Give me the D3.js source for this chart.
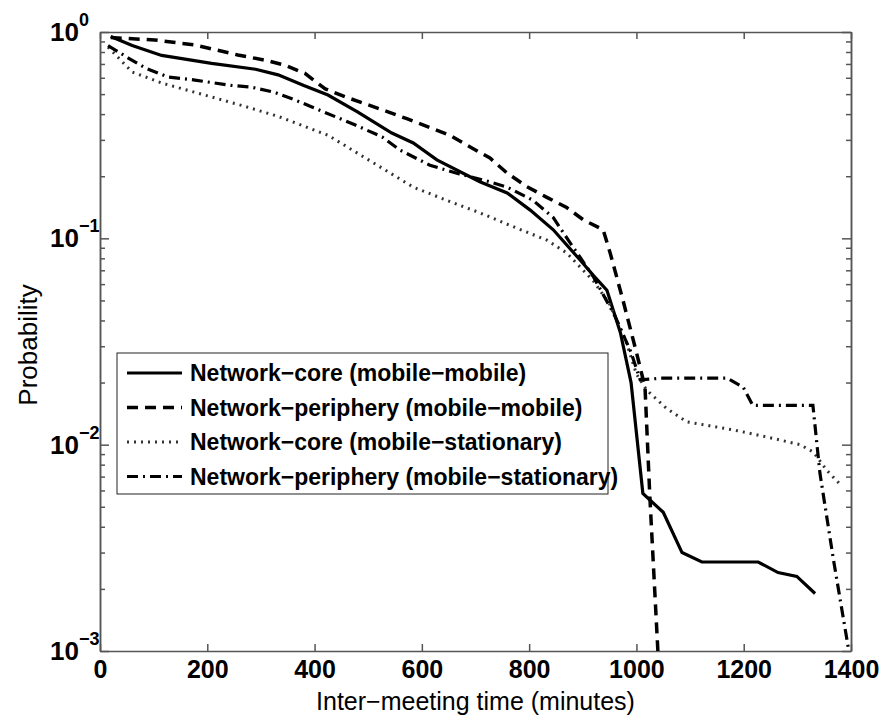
<!DOCTYPE html>
<html>
<head>
<meta charset="utf-8">
<script src="https://cdn.jsdelivr.net/npm/d3@7"></script>
<style>
  body { margin: 0; background: #fff; }
  svg { display: block; font-family: "Liberation Sans", Arial, sans-serif; }
  .axis path, .axis line { stroke: #555; stroke-width: 1.5; }
</style>
</head>
<body>
<div id="app"></div>
<script>
// series: x = inter-meeting time (minutes), p = probability
const coreMobileX = [20, 60, 115, 208, 290, 332, 380, 425, 480, 544, 584, 628, 708, 759, 802, 845, 895, 920, 945, 970, 990, 1012, 1050, 1085, 1122, 1227, 1264, 1299, 1333];
const coreMobileP = [0.95, 0.86, 0.77, 0.705, 0.66, 0.62, 0.55, 0.495, 0.41, 0.324, 0.29, 0.24, 0.188, 0.166, 0.137, 0.11, 0.0785, 0.066, 0.056, 0.035, 0.02, 0.0058, 0.0047, 0.003, 0.0027, 0.0027, 0.0024, 0.0023, 0.0019];

const periMobileX = [20, 102, 177, 257, 308, 345, 382, 420, 462, 537, 572, 652, 690, 727, 759, 796, 833, 870, 901, 938, 951, 975, 1000, 1016, 1025, 1040];
const periMobileP = [0.94, 0.915, 0.865, 0.774, 0.73, 0.69, 0.63, 0.53, 0.48, 0.41, 0.38, 0.316, 0.277, 0.245, 0.207, 0.178, 0.158, 0.141, 0.123, 0.11, 0.085, 0.05, 0.028, 0.019, 0.0056, 0.001];

const coreStatX = [15, 60, 115, 177, 265, 332, 425, 522, 584, 646, 708, 770, 833, 870, 920, 950, 980, 1000, 1019, 1056, 1094, 1180, 1243, 1305, 1330, 1355, 1383];
const coreStatP = [0.845, 0.64, 0.566, 0.51, 0.44, 0.39, 0.316, 0.222, 0.177, 0.153, 0.133, 0.114, 0.098, 0.085, 0.062, 0.048, 0.032, 0.022, 0.0184, 0.015, 0.0129, 0.0118, 0.0109, 0.01, 0.0092, 0.0075, 0.0063];

const periStatX = [15, 52, 84, 127, 177, 239, 283, 326, 364, 395, 475, 526, 559, 615, 670, 720, 759, 807, 845, 873, 920, 960, 990, 1007, 1046, 1169, 1199, 1217, 1329, 1342, 1367, 1396];
const periStatP = [0.86, 0.75, 0.67, 0.605, 0.585, 0.553, 0.54, 0.51, 0.468, 0.433, 0.355, 0.31, 0.268, 0.226, 0.205, 0.19, 0.177, 0.153, 0.126, 0.098, 0.065, 0.042, 0.028, 0.0206, 0.021, 0.021, 0.019, 0.0155, 0.0155, 0.0073, 0.0028, 0.001];

const seriesNames = [
  "Network\u2212core (mobile\u2212mobile)",
  "Network\u2212periphery (mobile\u2212mobile)",
  "Network\u2212core (mobile\u2212stationary)",
  "Network\u2212periphery (mobile\u2212stationary)"
];

const xTicks = [0, 200, 400, 600, 800, 1000, 1200, 1400];
const yMajor = [1, 0.1, 0.01, 0.001];
const yExp = ["0", "\u22121", "\u22122", "\u22123"];

const width = 883, height = 715;
const margin = {left: 100, right: 32, top: 32, bottom: 64};
const innerW = width - margin.left - margin.right;
const innerH = height - margin.top - margin.bottom;

const svg = d3.select("#app")
  .append("svg")
    .attr("width", width)
    .attr("height", height);

const g = svg.append("g")
  .attr("transform", `translate(${margin.left},${margin.top})`);

const x = d3.scaleLinear().domain([0, 1400]).range([0, innerW]);
const y = d3.scaleLog().domain([0.001, 1]).range([innerH, 0]);

// minor ticks for the log axis
let yMinor = [];
[0.001, 0.01, 0.1].forEach(d => { for (let k = 2; k <= 9; k++) yMinor.push(d * k); });

// axes (ticks point inward, box on all four sides)
g.append("g").attr("class", "axis")
  .attr("transform", `translate(0,${innerH})`)
  .call(d3.axisBottom(x).tickValues(xTicks).tickSize(-7).tickSizeOuter(0).tickPadding(9)
    .tickFormat(d3.format("d")))
  .call(s => s.selectAll("text")
    .attr("fill", "#000").attr("font-size", 25).attr("font-weight", "bold")
    .attr("font-family", "Liberation Sans, Arial, sans-serif"));

g.append("g").attr("class", "axis")
  .call(d3.axisTop(x).tickValues(xTicks).tickSize(-7).tickSizeOuter(0).tickFormat(""));

g.append("g").attr("class", "axis")
  .call(d3.axisLeft(y).tickValues(yMajor).tickSize(-9).tickSizeOuter(0).tickFormat(""));
g.append("g").attr("class", "axis")
  .call(d3.axisLeft(y).tickValues(yMinor).tickSize(-5).tickSizeOuter(0).tickFormat(""));

g.append("g").attr("class", "axis")
  .attr("transform", `translate(${innerW},0)`)
  .call(d3.axisRight(y).tickValues(yMajor).tickSize(-9).tickSizeOuter(0).tickFormat(""));
g.append("g").attr("class", "axis")
  .attr("transform", `translate(${innerW},0)`)
  .call(d3.axisRight(y).tickValues(yMinor).tickSize(-5).tickSizeOuter(0).tickFormat(""));

// y tick labels as 10^n
const yLab = g.append("g").selectAll("text")
  .data(yMajor)
  .join("text")
    .attr("x", -50)
    .attr("y", d => y(d) + 9)
    .attr("font-size", 26)
    .attr("font-weight", "bold");
yLab.append("tspan").text("10");
yLab.append("tspan")
  .attr("font-size", 18)
  .attr("dy", -15)
  .text((d, i) => yExp[i]);

// axis titles
svg.append("text")
  .attr("text-anchor", "middle")
  .attr("x", margin.left + innerW / 2)
  .attr("y", 709.5)
  .attr("font-size", 25)
  .text("Inter\u2212meeting time (minutes)");

svg.append("text")
  .attr("text-anchor", "middle")
  .attr("transform", `translate(37,345) rotate(-90)`)
  .attr("font-size", 26)
  .text("Probability");

// lines
const series = [
  {xs: coreMobileX, ps: coreMobileP, dash: null, w: 3.2, color: "#000"},
  {xs: periMobileX, ps: periMobileP, dash: "11,7", w: 3.5, color: "#000"},
  {xs: coreStatX, ps: coreStatP, dash: "2,5", w: 3, color: "#333"},
  {xs: periStatX, ps: periStatP, dash: "11,5,2,5", w: 3.2, color: "#000"}
];

svg.append("clipPath").attr("id", "plot")
  .append("rect").attr("x", -2).attr("y", -2).attr("width", innerW + 4).attr("height", innerH + 4);

const line = d3.line().x(d => x(d[0])).y(d => y(d[1]));

g.append("g").attr("clip-path", "url(#plot)")
  .selectAll("path")
  .data(series)
  .join("path")
    .attr("d", s => line(s.xs.map((v, i) => [v, s.ps[i]])))
    .attr("fill", "none")
    .attr("stroke", s => s.color)
    .attr("stroke-width", s => s.w)
    .attr("stroke-dasharray", s => s.dash);

// legend
const legend = svg.append("g");
legend.append("rect")
  .attr("x", 117).attr("y", 353)
  .attr("width", 491).attr("height", 141)
  .attr("fill", "#fff")
  .attr("stroke", "#222")
  .attr("stroke-width", 1);

const rows = legend.selectAll("g.row")
  .data(series)
  .join("g")
    .attr("class", "row")
    .attr("transform", (d, i) => `translate(0,${373 + i * 34.5})`);

rows.append("line")
  .attr("x1", 127).attr("x2", 182)
  .attr("stroke", s => s.color)
  .attr("stroke-width", s => s.w)
  .attr("stroke-dasharray", s => s.dash);

rows.append("text")
  .attr("x", 190)
  .attr("y", 8)
  .attr("font-size", 23)
  .attr("font-weight", "bold")
  .text((d, i) => seriesNames[i]);
</script>
</body>
</html>
